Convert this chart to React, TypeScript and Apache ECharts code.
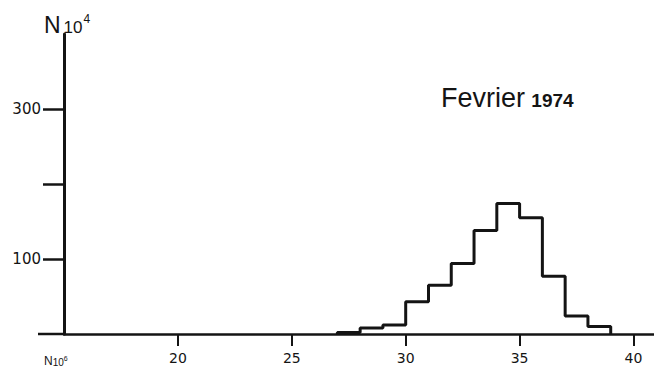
import React, { useEffect, useRef } from "react";
import * as echarts from "echarts";

// Histogram bin edges (length units) and counts (N·10^4)
const binEdges = [27, 28, 29, 30, 31, 32, 33, 34, 35, 36, 37, 38, 39];
const binCounts = [2, 8, 12, 43, 65, 94, 138, 174, 155, 77, 24, 10];

const xTickValues = [20, 25, 30, 35, 40];
const yTickValues = [100, 200, 300];
const yLabelValues = [100, 300];

const INK = "#141414";

export default function App() {
  const ref = useRef<HTMLDivElement>(null);

  useEffect(() => {
    if (!ref.current) return;
    const chart = echarts.init(ref.current, null, { renderer: "svg" });

    // step "start": vertical first at each point's x, then horizontal to the next point
    const stepData: number[][] = [[binEdges[0], 0]];
    binCounts.forEach((c, i) => stepData.push([binEdges[i + 1], c]));
    stepData.push([binEdges[binEdges.length - 1], 0]);

    chart.setOption({
      animation: false,
      backgroundColor: "#ffffff",
      grid: { left: 64, right: 0, top: 34, bottom: 34, containLabel: false },
      xAxis: {
        type: "value",
        min: 15,
        max: 40.9,
        axisLine: { show: true, lineStyle: { color: INK, width: 2.5 } },
        axisTick: {
          show: true,
          customValues: xTickValues,
          length: 12,
          lineStyle: { color: INK, width: 2 },
        },
        axisLabel: {
          customValues: xTickValues,
          margin: 17,
          fontSize: 14,
          color: INK,
          fontFamily: "DejaVu Sans",
        },
        splitLine: { show: false },
      },
      yAxis: {
        type: "value",
        min: 0,
        max: 400,
        axisLine: { show: true, lineStyle: { color: INK, width: 3 } },
        axisTick: {
          show: true,
          customValues: yTickValues,
          length: 21,
          lineStyle: { color: INK, width: 2.5 },
        },
        axisLabel: {
          customValues: yLabelValues,
          margin: 23,
          fontSize: 15,
          color: INK,
          fontFamily: "DejaVu Sans",
          verticalAlign: "middle",
          padding: [0, 0, 6, 0],
        },
        splitLine: { show: false },
      },
      graphic: [
        {
          type: "line",
          shape: { x1: 38, y1: 334, x2: 64, y2: 334 },
          style: { stroke: INK, lineWidth: 2.5 },
        },
        {
          type: "text",
          x: 44,
          y: 13,
          style: {
            text: "{n|N}{b|10}{s|4}",
            rich: {
              n: { fontSize: 23, fontFamily: "Liberation Sans", fill: INK, verticalAlign: "bottom", padding: [0, 3, 0, 0] },
              b: { fontSize: 17, fontFamily: "Liberation Sans", fill: INK, verticalAlign: "bottom" },
              s: { fontSize: 12, fontFamily: "Liberation Sans", fill: INK, verticalAlign: "top", padding: [0, 0, 10, 1] },
            },
          },
        },
        {
          type: "text",
          x: 441,
          y: 84,
          style: {
            text: "{a|Fevrier} {b|1974}",
            rich: {
              a: { fontSize: 27, fontFamily: "Liberation Sans", fill: INK, verticalAlign: "bottom" },
              b: { fontSize: 19, fontFamily: "Liberation Sans", fontWeight: "bold", fill: INK, verticalAlign: "bottom", padding: [0, 0, 1, 3] },
            },
          },
        },
        {
          type: "text",
          x: 44,
          y: 355,
          style: {
            text: "{n|N}{b|10}{s|6}",
            rich: {
              n: { fontSize: 12, fontFamily: "Liberation Sans", fill: INK, verticalAlign: "bottom" },
              b: { fontSize: 10, fontFamily: "Liberation Sans", fill: INK, verticalAlign: "bottom" },
              s: { fontSize: 7, fontFamily: "Liberation Sans", fill: INK, verticalAlign: "top" },
            },
          },
        },
      ],
      series: [
        {
          type: "line",
          step: "start",
          data: stepData,
          showSymbol: false,
          lineStyle: { color: INK, width: 3 },
          z: 5,
        },
      ],
    });

    return () => chart.dispose();
  }, []);

  return (
    <div
      ref={ref}
      style={{ position: "absolute", left: 0, top: 0, width: 654, height: 368 }}
    />
  );
}
